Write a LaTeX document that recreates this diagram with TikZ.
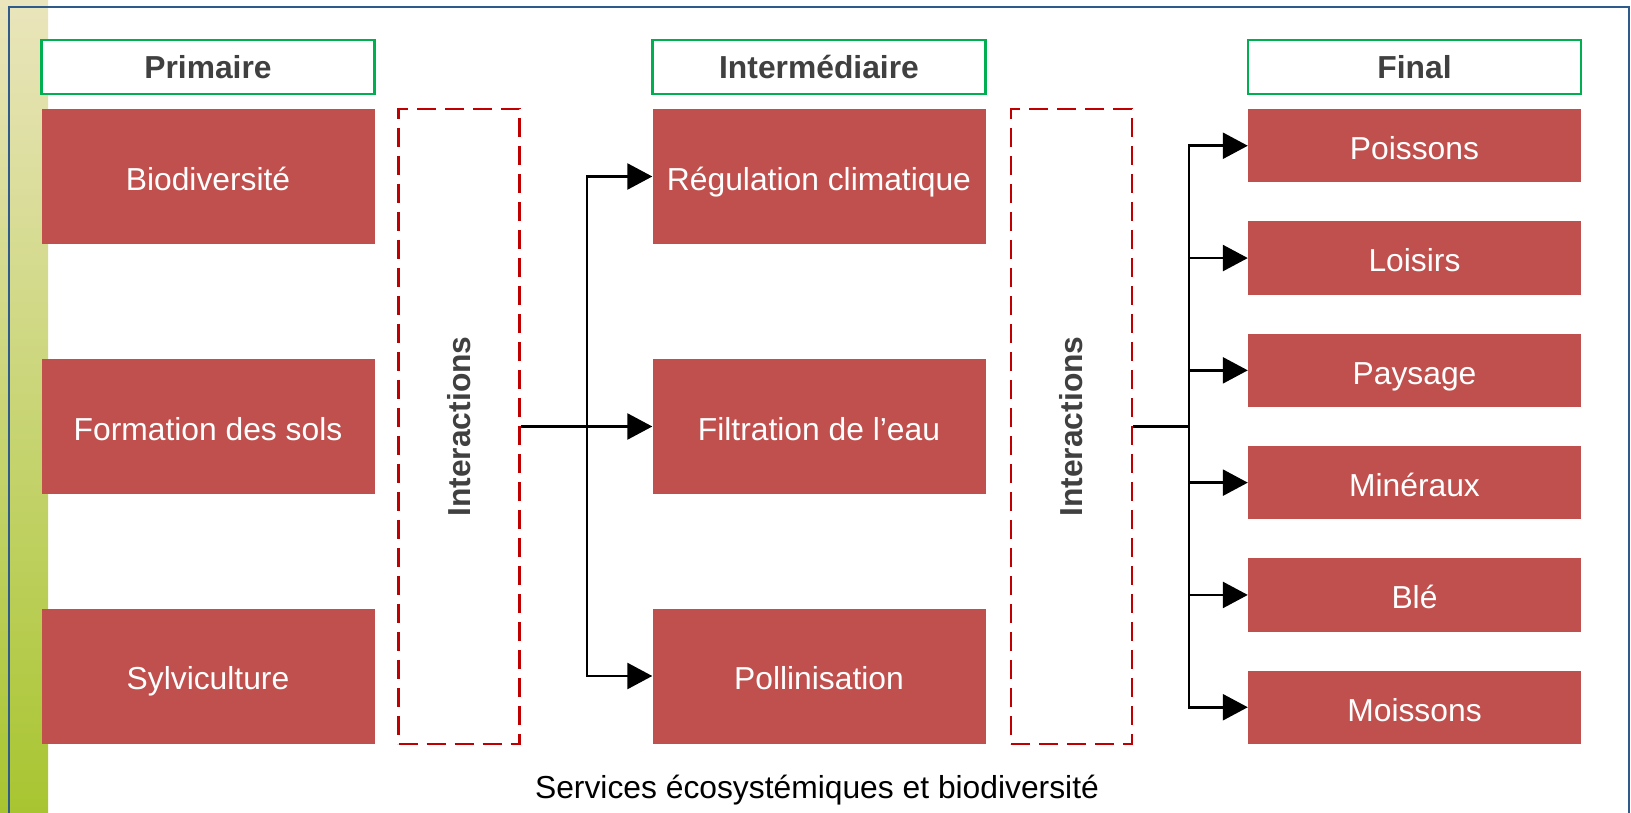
\documentclass[tikz,border=0pt]{standalone}
\usepackage{fontspec}
\setmainfont{Liberation Sans}
\usetikzlibrary{arrows.meta}
\definecolor{boxred}{HTML}{C0504D}
\definecolor{dashred}{HTML}{C00000}
\definecolor{hdrgreen}{HTML}{00B050}
\definecolor{framebl}{HTML}{2F5A8C}
\definecolor{txtgray}{HTML}{404040}
\definecolor{bartop}{HTML}{EAE5BC}
\definecolor{barbot}{HTML}{A8C530}
\tikzset{
  bigfont/.style={font=\fontsize{31.8}{38}\selectfont},
  hdr/.style={draw=hdrgreen, line width=2.5pt, fill=white, minimum width=333pt, minimum height=54pt, inner sep=0pt, text=txtgray, font=\fontsize{31.8}{38}\selectfont\bfseries},
  tall/.style={fill=boxred, minimum width=333pt, minimum height=135pt, inner sep=0pt, text=white, bigfont, text height=27.5pt, text depth=0pt},
  small/.style={fill=boxred, minimum width=333pt, minimum height=73.5pt, inner sep=0pt, text=white, bigfont, text height=27.5pt, text depth=0pt},
  inter/.style={draw=dashred, line width=2.25pt, dash pattern=on 19pt off 9pt, minimum width=121pt, minimum height=635pt, inner sep=0pt},
  intertxt/.style={rotate=90, text=txtgray, font=\fontsize{31.8}{38}\selectfont\bfseries},
  conn/.style={draw=black, line width=2.6pt},
  arr/.style={conn, -{Triangle[length=25pt,width=26pt]}}
}
\begin{document}
\begin{tikzpicture}[x=1pt,y=-1pt]
\useasboundingbox (0,0) rectangle (1631,813);
\fill[white] (0,0) rectangle (1631,813);
\shade[top color=bartop, bottom color=barbot] (0,0) rectangle (48,813);
\draw[framebl, line width=2.5pt] (9,7) rectangle (1629,830);
% headers
\node[hdr] (h1) at (208,67) {Primaire};
\node[hdr] (h2) at (819,67) {Intermédiaire};
\node[hdr] (h3) at (1414.5,67) {Final};
% primary
\node[tall] (bio) at (208,176.5) {Biodiversité};
\node[tall] (sol) at (208,426.5) {Formation des sols};
\node[tall] (syl) at (208,676) {Sylviculture};
% interactions
\node[inter] (i1) at (459,426.5) {};
\node[intertxt] (i1t) at (459,426.5) {Interactions};
\node[inter] (i2) at (1071.5,426.5) {};
\node[intertxt] (i2t) at (1071.5,426.5) {Interactions};
% intermediate
\node[tall] (reg) at (819,176.5) {Régulation climatique};
\node[tall] (fil) at (819,426.5) {Filtration de l’eau};
\node[tall] (pol) at (819,676) {Pollinisation};
% final
\node[small] (poi) at (1414.5,145.75) {Poissons};
\node[small] (loi) at (1414.5,258.05) {Loisirs};
\node[small] (pay) at (1414.5,370.35) {Paysage};
\node[small] (min) at (1414.5,482.65) {Minéraux};
\node[small] (ble) at (1414.5,594.95) {Blé};
\node[small] (moi) at (1414.5,707.25) {Moissons};
% connectors
\coordinate (t1) at (587,426.5);
\draw[arr] (i1.east) -- (fil.west);
\draw[arr] (t1) |- (reg.west);
\draw[arr] (t1) |- (pol.west);
\coordinate (t2) at (1189,426.5);
\draw[conn] (i2.east) -- (t2);
\foreach \b in {poi,loi,pay,min,ble,moi}{
  \draw[arr] (t2) |- (\b.west);
}
% caption
\node[bigfont] (cap) at (817,790) {Services écosystémiques et biodiversité};
\end{tikzpicture}
\end{document}
